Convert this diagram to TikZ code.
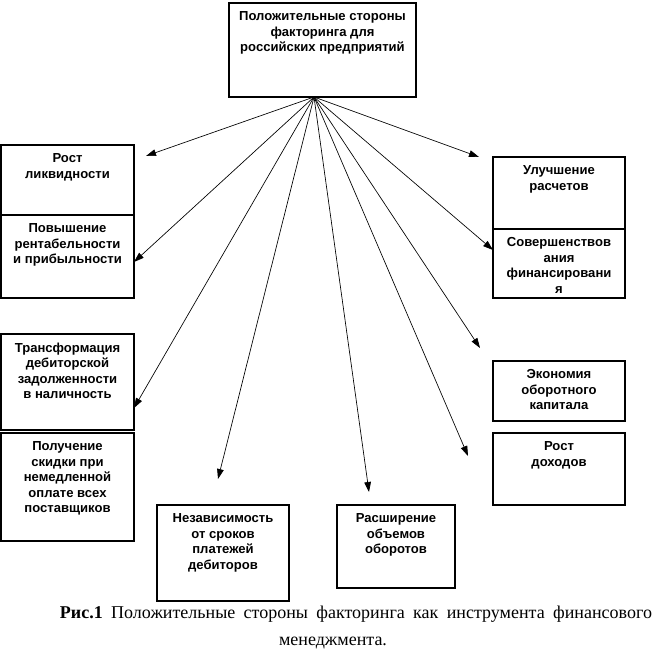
\documentclass[tikz,border=0pt]{standalone}
\usepackage{fontspec}
\setmainfont{Liberation Serif}
\newfontfamily\boxfont{Liberation Sans}
\usetikzlibrary{arrows.meta,fit}
\begin{document}
\begin{tikzpicture}[x=0.75pt,y=-0.75pt,
  frame/.style={draw,line width=0.8pt,inner sep=0pt},
  boxtext/.style={anchor=north,inner sep=0pt,align=center,
    font={\boxfont\bfseries\fontsize{9.8}{11.6}\selectfont}},
  ray/.style={line width=0.5pt,-{Triangle[length=7.5pt,width=5pt]}},
  captext/.style={anchor=base,inner sep=0pt,font={\fontsize{13.5}{16}\selectfont}}]
\useasboundingbox (0,0) rectangle (664,668);
% boxes
\node[frame,fit={(229,3)(416,97)}] (top) {};
\node[frame,fit={(1,145)(134,215)}] (l1) {};
\node[frame,fit={(1,215)(134,298)}] (l2) {};
\node[frame,fit={(493,157)(625,229)}] (r1) {};
\node[frame,fit={(493,229)(625,298)}] (r2) {};
\node[frame,fit={(1,334)(134,430)}] (l3) {};
\node[frame,fit={(1,433)(134,541)}] (l4) {};
\node[frame,fit={(493,361)(625,421)}] (r3) {};
\node[frame,fit={(493,433)(625,505)}] (r4) {};
\node[frame,fit={(157,505)(289,601)}] (b1) {};
\node[frame,fit={(337,505)(455,588)}] (b2) {};
% texts
\node[boxtext] (top-t) at ([yshift=-6.8pt]top.north) {Положительные стороны\\факторинга для\\российских предприятий};
\node[boxtext] (l1-t) at ([yshift=-6.8pt]l1.north) {Рост\\ликвидности};
\node[boxtext] (l2-t) at ([yshift=-6.8pt]l2.north) {Повышение\\рентабельности\\и прибыльности};
\node[boxtext] (r1-t) at ([yshift=-6.8pt]r1.north) {Улучшение\\расчетов};
\node[boxtext] (r2-t) at ([yshift=-6.8pt]r2.north) {Совершенствов\\ания\\финансировани\\я};
\node[boxtext] (l3-t) at ([yshift=-6.8pt]l3.north) {Трансформация\\дебиторской\\задолженности\\в наличность};
\node[boxtext] (l4-t) at ([yshift=-6.8pt]l4.north) {Получение\\скидки при\\немедленной\\оплате всех\\поставщиков};
\node[boxtext] (r3-t) at ([yshift=-6.8pt]r3.north) {Экономия\\оборотного\\капитала};
\node[boxtext] (r4-t) at ([yshift=-6.8pt]r4.north) {Рост\\доходов};
\node[boxtext] (b1-t) at ([yshift=-6.8pt]b1.north) {Независимость\\от сроков\\платежей\\дебиторов};
\node[boxtext] (b2-t) at ([yshift=-6.8pt]b2.north) {Расширение\\объемов\\оборотов};
% arrow origin and free ends
\coordinate (o) at (314,97);
\coordinate (e1) at (146,156);
\coordinate (e2) at (134,262);
\coordinate (e3) at (134,408);
\coordinate (e4) at (218,479);
\coordinate (e5) at (369,492);
\coordinate (e6) at (468,456);
\coordinate (e7) at (480,348);
\coordinate (e8) at (493,250);
\coordinate (e9) at (479,157);
\foreach \e in {e1,e2,e3,e4,e5,e6,e7,e8,e9}
  \draw[ray] (o) -- (\e);
% caption
\node[captext] (cap1) at (356,618) {\makebox[444pt][s]{\textbf{Рис.1} Положительные стороны факторинга как инструмента финансового}};
\node[captext] (cap2) at (333,645) {менеджмента.};
\end{tikzpicture}
\end{document}
